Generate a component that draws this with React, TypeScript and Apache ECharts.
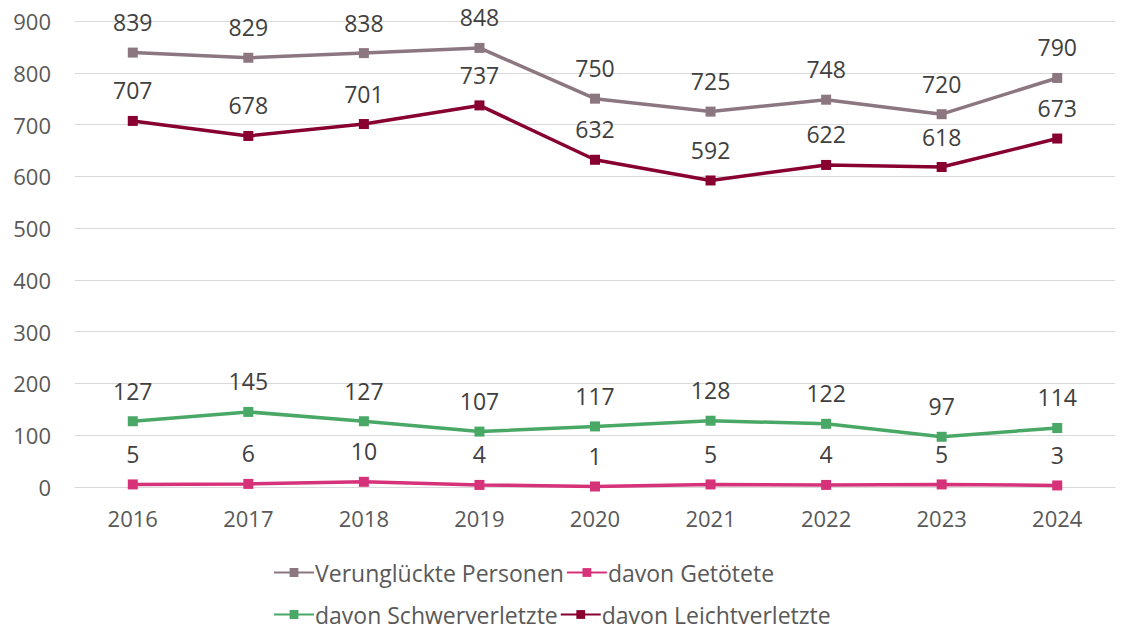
import React, { useEffect, useRef } from 'react';
import * as echarts from 'echarts';

const years = ['2016', '2017', '2018', '2019', '2020', '2021', '2022', '2023', '2024'];
const verunglueckte = [839, 829, 838, 848, 750, 725, 748, 720, 790];
const getoetete = [5, 6, 10, 4, 1, 5, 4, 5, 3];
const schwerverletzte = [127, 145, 127, 107, 117, 128, 122, 97, 114];
const leichtverletzte = [707, 678, 701, 737, 632, 592, 622, 618, 673];

const font = '"Open Sans", "Noto Sans", sans-serif';

const makeSeries = (name: string, data: number[], color: string, z: number) => ({
    name,
    type: 'line',
    data,
    z,
    symbol: 'rect',
    symbolSize: 10,
    lineStyle: { color, width: 3.5 },
    itemStyle: { color },
    label: {
        show: true,
        position: 'top',
        distance: 14,
        color: '#404040',
        fontSize: 23,
        fontFamily: font
    }
});

const App: React.FC = () => {
    const chartRef = useRef<HTMLDivElement | null>(null);

    useEffect(() => {
        document.body.style.margin = '0';
        if (!chartRef.current) return;
        const myChart = echarts.init(chartRef.current, null, { renderer: 'svg' });

        const legendBase = {
            left: 268,
            itemWidth: 40,
            itemHeight: 11,
            itemGap: 2,
            textStyle: { color: '#595959', fontSize: 23, fontFamily: font, padding: [0, 0, 0, -4] }
        };

        const option = {
            animation: false,
            backgroundColor: '#fff',
            grid: { left: 75, right: 15, top: 21, bottom: 151, containLabel: false },
            legend: [
                { ...legendBase, top: 556, data: ['Verunglückte Personen', 'davon Getötete'] },
                { ...legendBase, top: 598, data: ['davon Schwerverletzte', 'davon Leichtverletzte'] }
            ],
            xAxis: {
                type: 'category',
                data: years,
                boundaryGap: true,
                axisLine: { show: true, lineStyle: { color: '#d9d9d9' } },
                axisTick: { show: false },
                axisLabel: { color: '#595959', fontSize: 22, fontFamily: font, margin: 20 }
            },
            yAxis: {
                type: 'value',
                min: 0,
                max: 900,
                interval: 100,
                axisLine: { show: false },
                axisTick: { show: false },
                splitLine: { lineStyle: { color: '#d9d9d9' } },
                axisLabel: { color: '#595959', fontSize: 22, fontFamily: font, margin: 24 }
            },
            series: [
                makeSeries('Verunglückte Personen', verunglueckte, '#8c7780', 4),
                makeSeries('davon Getötete', getoetete, '#d6327a', 3),
                makeSeries('davon Schwerverletzte', schwerverletzte, '#4aa866', 2),
                makeSeries('davon Leichtverletzte', leichtverletzte, '#870030', 5)
            ]
        };

        myChart.setOption(option);
        return () => {
            myChart.dispose();
        };
    }, []);

    return <div ref={chartRef} style={{ width: 1130, height: 638 }} />;
};

export default App;
